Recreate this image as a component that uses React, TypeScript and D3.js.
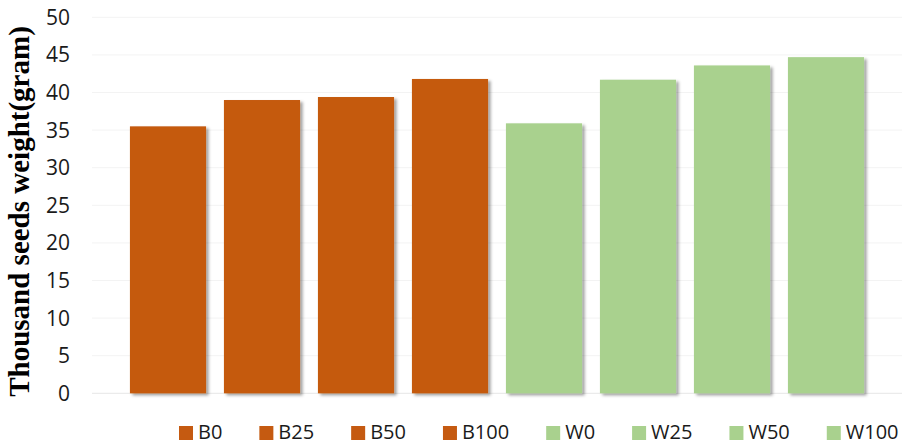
import React, { useEffect, useRef } from "react";
import * as d3 from "d3";

// Treatments and their thousand-seed weights (g)
const categories: string[] = ["B0", "B25", "B50", "B100", "W0", "W25", "W50", "W100"];
const weights: number[] = [35.5, 39.0, 39.4, 41.8, 35.9, 41.7, 43.6, 44.7];
const yTicks: number[] = [0, 5, 10, 15, 20, 25, 30, 35, 40, 45, 50];
const yTitle = "Thousand seeds weight(gram)";

const W = 905;
const H = 445;
const COLOR_B = "#C55A11";
const COLOR_W = "#A9D18E";
const colorOf = (c: string) => (c.startsWith("B") ? COLOR_B : COLOR_W);

export default function App() {
  const ref = useRef<SVGSVGElement | null>(null);

  useEffect(() => {
    const svg = d3.select(ref.current);
    svg.selectAll("*").remove();

    const defs = svg.append("defs");
    const f = defs
      .append("filter")
      .attr("id", "barShadow")
      .attr("x", "-10%")
      .attr("y", "-10%")
      .attr("width", "130%")
      .attr("height", "130%");
    f.append("feDropShadow")
      .attr("dx", 2.5)
      .attr("dy", 2)
      .attr("stdDeviation", 1.6)
      .attr("flood-color", "#000")
      .attr("flood-opacity", 0.38);

    const x = d3
      .scaleBand<string>()
      .domain(categories)
      .range([121, 873])
      .paddingInner(0.19)
      .paddingOuter(0.095);
    const y = d3.scaleLinear().domain([0, 50]).range([393.3, 17.3]);

    // gridlines
    svg
      .append("g")
      .selectAll("line")
      .data(yTicks)
      .join("line")
      .attr("x1", 92)
      .attr("x2", 902)
      .attr("y1", (d) => y(d))
      .attr("y2", (d) => y(d))
      .attr("stroke", (d) => (d === 0 ? "#e6e6e6" : "#f3f3f3"))
      .attr("stroke-width", 1);

    // tick labels
    svg
      .append("g")
      .selectAll("text")
      .data(yTicks)
      .join("text")
      .attr("x", 70)
      .attr("y", (d) => y(d))
      .attr("dy", "0.36em")
      .attr("text-anchor", "end")
      .attr("font-family", "'Open Sans', sans-serif")
      .attr("font-size", 21)
      .attr("fill", "#1a1a1a")
      .text((d) => String(d));

    // bars
    svg
      .append("g")
      .selectAll("rect")
      .data(categories.map((c, i) => ({ c, v: weights[i] })))
      .join("rect")
      .attr("x", (d) => x(d.c) as number)
      .attr("width", x.bandwidth())
      .attr("y", (d) => y(d.v))
      .attr("height", (d) => y(0) - y(d.v))
      .attr("fill", (d) => colorOf(d.c))
      .attr("filter", "url(#barShadow)");

    // y-axis title
    svg
      .append("text")
      .attr("transform", `translate(29, ${(398 + 25) / 2}) rotate(-90)`)
      .attr("text-anchor", "middle")
      .attr("font-family", "'Liberation Serif', 'Times New Roman', serif")
      .attr("font-weight", "bold")
      .attr("font-size", 29)
      .attr("fill", "#000")
      .text(yTitle);

    // legend
    const lg = svg.append("g");
    let lx = 179;
    categories.forEach((c) => {
      lg.append("rect")
        .attr("x", lx)
        .attr("y", 426)
        .attr("width", 14)
        .attr("height", 14)
        .attr("fill", colorOf(c));
      const t = lg
        .append("text")
        .attr("x", lx + 19)
        .attr("y", 439)
        .attr("font-family", "'Open Sans', sans-serif")
        .attr("font-size", 20)
        .attr("fill", "#1a1a1a")
        .text(c);
      const tw = (t.node() as SVGTextElement).getComputedTextLength();
      lx = lx + 19 + tw + 37;
    });
  }, []);

  return (
    <div style={{ position: "absolute", left: 0, top: 0, background: "#fff" }}>
      <svg ref={ref} width={W} height={H} style={{ display: "block" }} />
    </div>
  );
}
